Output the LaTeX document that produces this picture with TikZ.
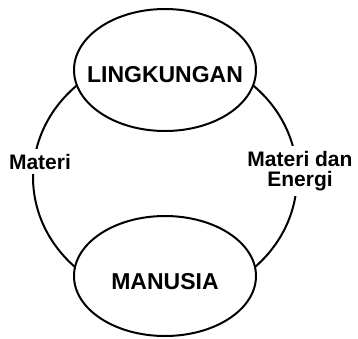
\documentclass[tikz,border=0pt]{standalone}
\usepackage{fontspec}
\setmainfont{Liberation Sans}
\usetikzlibrary{shapes.geometric}
\begin{document}
\begin{tikzpicture}[x=1pt,y=-1pt,
  oval/.style={draw,line width=2pt,fill=white,ellipse,inner sep=0pt},
  big/.style={font=\bfseries\fontsize{23}{26}\selectfont,inner sep=0pt,anchor=base},
  lab/.style={font=\bfseries\fontsize{21}{20}\selectfont,fill=white,inner sep=5pt,align=center}]
\useasboundingbox (0,0) rectangle (358,338);
\coordinate (ring) at (165,177);
\draw[line width=2pt] (ring) ellipse [x radius=132pt, y radius=123pt];
\node[lab] (mat) at (40,161.5) {Materi};
\node[lab] (me) at (300,171) {Materi dan\\Energi};
\node[oval,minimum width=182pt,minimum height=122pt] (ling) at (165,70) {};
\node[oval,minimum width=182pt,minimum height=120pt] (man) at (165,276) {};
\node[big] (lingt) at (165,82) {LINGKUNGAN};
\node[big] (mant) at (165,289) {MANUSIA};
\end{tikzpicture}
\end{document}
